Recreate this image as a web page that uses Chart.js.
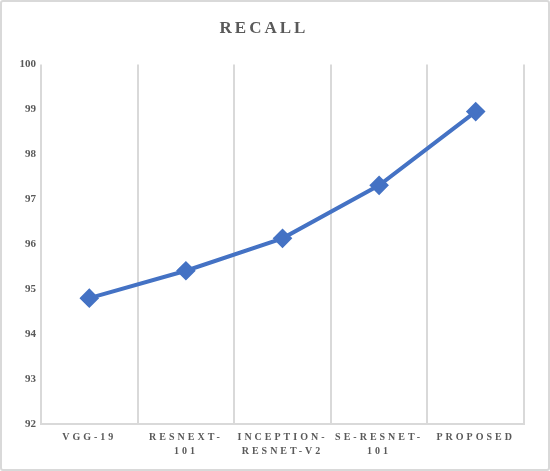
<!DOCTYPE html>
<html>
<head>
<meta charset="utf-8">
<script src="https://cdn.jsdelivr.net/npm/chart.js@4"></script>
<style>
  body { margin: 0; background: #fff; }
  #wrap { width: 550px; height: 471px; box-sizing: border-box; border: 2px solid #d9d9d9; border-radius: 3px; }
</style>
</head>
<body>
<div id="wrap"><canvas id="myChart" width="546" height="467"></canvas></div>
<script>
const models = [["VGG-19"], ["RESNEXT-", "101"], ["INCEPTION-", "RESNET-V2"], ["SE-RESNET-", "101"], ["PROPOSED"]];
const recall = [94.8, 95.41, 96.13, 97.31, 98.95];
const yTicks = [92, 93, 94, 95, 96, 97, 98, 99, 100];

// Excel-style spaced caps
const spacing = {
    id: "spacing",
    beforeDraw(chart) {
        chart.ctx.letterSpacing = "3px";
        const y = chart.scales.y;
        if (!y._wrapped) {
            const orig = y.drawLabels.bind(y);
            y.drawLabels = function(area) {
                const ctx = this.ctx;
                ctx.save();
                ctx.letterSpacing = "0px";
                orig(area);
                ctx.restore();
            };
            y._wrapped = true;
        }
    },
    afterDraw(chart) {
        chart.ctx.letterSpacing = "0px";
    }
};

var ctx = document.getElementById("myChart").getContext("2d");
var myChart = new Chart(ctx, {
    type: "line",
    plugins: [spacing],
    data: {
        labels: models,
        datasets: [
            {
                label: "Recall",
                data: recall,
                borderColor: "#4472c4",
                backgroundColor: "#4472c4",
                borderWidth: 4,
                pointStyle: "rectRot",
                pointRadius: 7,
                pointHoverRadius: 7,
                tension: 0
            }
        ]
    },
    options: {
        responsive: false,
        animation: false,
        layout: { padding: { left: 2, right: 24, top: 6, bottom: 5 } },
        plugins: {
            legend: { display: false },
            tooltip: { enabled: false },
            title: {
                display: true,
                text: "RECALL",
                color: "#595959",
                font: { family: "Liberation Serif", size: 17, weight: "bold" },
                padding: { top: 10, bottom: 26 }
            }
        },
        scales: {
            x: {
                offset: true,
                grid: { offset: true, color: "#d9d9d9", lineWidth: 2, drawTicks: false },
                border: { color: "#d9d9d9", width: 2 },
                ticks: {
                    color: "#595959",
                    padding: 6,
                    maxRotation: 0,
                    font: { family: "Liberation Serif", size: 10, weight: "bold", lineHeight: 1.4 }
                }
            },
            y: {
                min: 92,
                max: 100,
                afterBuildTicks: scale => { scale.ticks = yTicks.map(v => ({ value: v })); },
                afterFit: scale => { scale.width = 37; },
                grid: { display: false, drawTicks: false },
                border: { display: false },
                ticks: {
                    color: "#595959",
                    padding: 5,
                    font: { family: "Liberation Serif", size: 11, weight: "bold" }
                }
            }
        }
    }
});
</script>
</body>
</html>
